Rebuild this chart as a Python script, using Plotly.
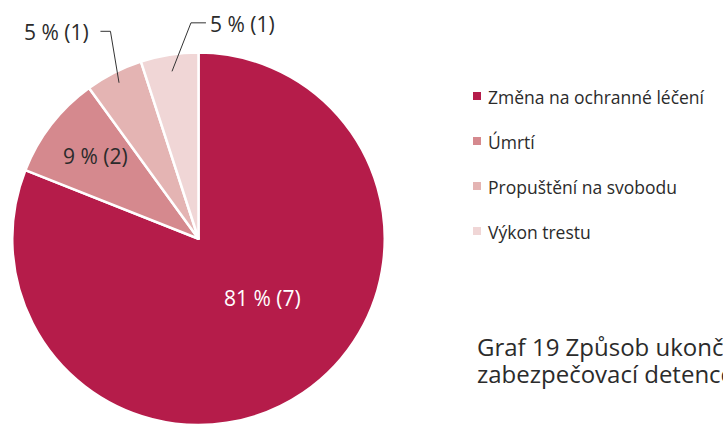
import math
import plotly.graph_objects as go

# data
categories = ["Změna na ochranné léčení", "Úmrtí", "Propuštění na svobodu", "Výkon trestu"]
percents = [81, 9, 5, 5]
counts = [7, 2, 1, 1]
title_lines = ["Graf 19 Způsob ukončení", "zabezpečovací detence"]

colors = ["#B51C4A", "#D5898E", "#E4B4B3", "#F0D6D6"]
W, H = 723, 425
FONT = "Open Sans, Noto Sans, sans-serif"
TXT = "#2b2b2b"

# pie placement in pixels (plotly centres the pie in its domain)
dom_x = [10 / W, 387 / W]
dom_y = [0, 1 - 52.5 / H]
dw = (dom_x[1] - dom_x[0]) * W
dh = (dom_y[1] - dom_y[0]) * H
r = min(dw, dh) / 2
cx = (dom_x[0] + dom_x[1]) / 2 * W
cy = H - (dom_y[0] + dom_y[1]) / 2 * H

fig = go.Figure(go.Pie(
    labels=categories,
    values=percents,
    sort=False,
    direction="clockwise",
    rotation=0,
    textinfo="none",
    marker=dict(colors=colors, line=dict(color="#FFFFFF", width=2.5)),
    domain=dict(x=dom_x, y=dom_y),
    showlegend=False,
    hovertemplate="%{label}: %{value} %<extra></extra>",
))


def px(x, y):
    return x / W, 1 - y / H


def polar(ang, rad):
    a = math.radians(ang)
    return cx + rad * math.sin(a), cy - rad * math.cos(a)


def note(x, y, text, size, color=TXT, xanchor="center"):
    xx, yy = px(x, y)
    return dict(x=xx, y=yy, xref="paper", yref="paper", text=text, showarrow=False,
                xanchor=xanchor, yanchor="middle",
                font=dict(family=FONT, size=size, color=color))


# mid angles of slices, clockwise from 12 o'clock
total = sum(percents)
mids = []
acc = 0
for v in percents:
    mids.append((acc + v / 2) / total * 360)
    acc += v

labels = [f"{p} % ({c})" for p, c in zip(percents, counts)]
annotations = []
shapes = []

# inside labels: (slice, radius factor, angle shift, colour)
inside = [(0, 0.47, -13, "#FFFFFF"), (1, 0.71, 1, TXT)]
for i, rf, da, col in inside:
    x, y = polar(mids[i] + da, rf * r)
    annotations.append(note(x, y, labels[i], 21, col))

# outside labels with leader lines: (slice, start r, elbow r, elbow shift, tail, side)
outside = [(2, 0.94, 1.21, 4, -10, "right"), (3, 0.91, 1.16, 7, 15, "left")]
for i, r0, r1, da, tail, anchor in outside:
    x0, y0 = polar(mids[i], r0 * r)
    x1, y1 = polar(mids[i] + da, r1 * r)
    x2, y2 = x1 + tail, y1
    pts = [px(*p) for p in [(x0, y0), (x1, y1), (x2, y2)]]
    path = "M {},{} L {},{} L {},{}".format(*[c for p in pts for c in p])
    shapes.append(dict(type="path", path=path, xref="paper", yref="paper",
                       line=dict(color="#333333", width=1)))
    lx = x2 - 9 if anchor == "right" else x2 + 2
    annotations.append(note(lx, y2 + 1, labels[i], 21, TXT, anchor))

# manual legend
leg_x, leg_y0, leg_dy, sq = 473, 96, 45, 8
for k, (name, col) in enumerate(zip(categories, colors)):
    y = leg_y0 + k * leg_dy
    a0 = px(leg_x, y - sq / 2)
    a1 = px(leg_x + sq, y + sq / 2)
    shapes.append(dict(type="rect", xref="paper", yref="paper",
                       x0=a0[0], x1=a1[0], y0=a1[1], y1=a0[1],
                       fillcolor=col, line=dict(width=0)))
    annotations.append(note(leg_x + 13, y + 1, name, 17.5, TXT, "left"))

# caption
for k, line in enumerate(title_lines):
    annotations.append(note(475, 346 + k * 27, line, 24, TXT, "left"))

fig.update_layout(
    width=W,
    height=H,
    margin=dict(l=0, r=0, t=0, b=0),
    paper_bgcolor="#FFFFFF",
    plot_bgcolor="#FFFFFF",
    annotations=annotations,
    shapes=shapes,
)

fig.write_html("out.html", config={"displayModeBar": False},
               post_script="document.body.style.margin='0';")
